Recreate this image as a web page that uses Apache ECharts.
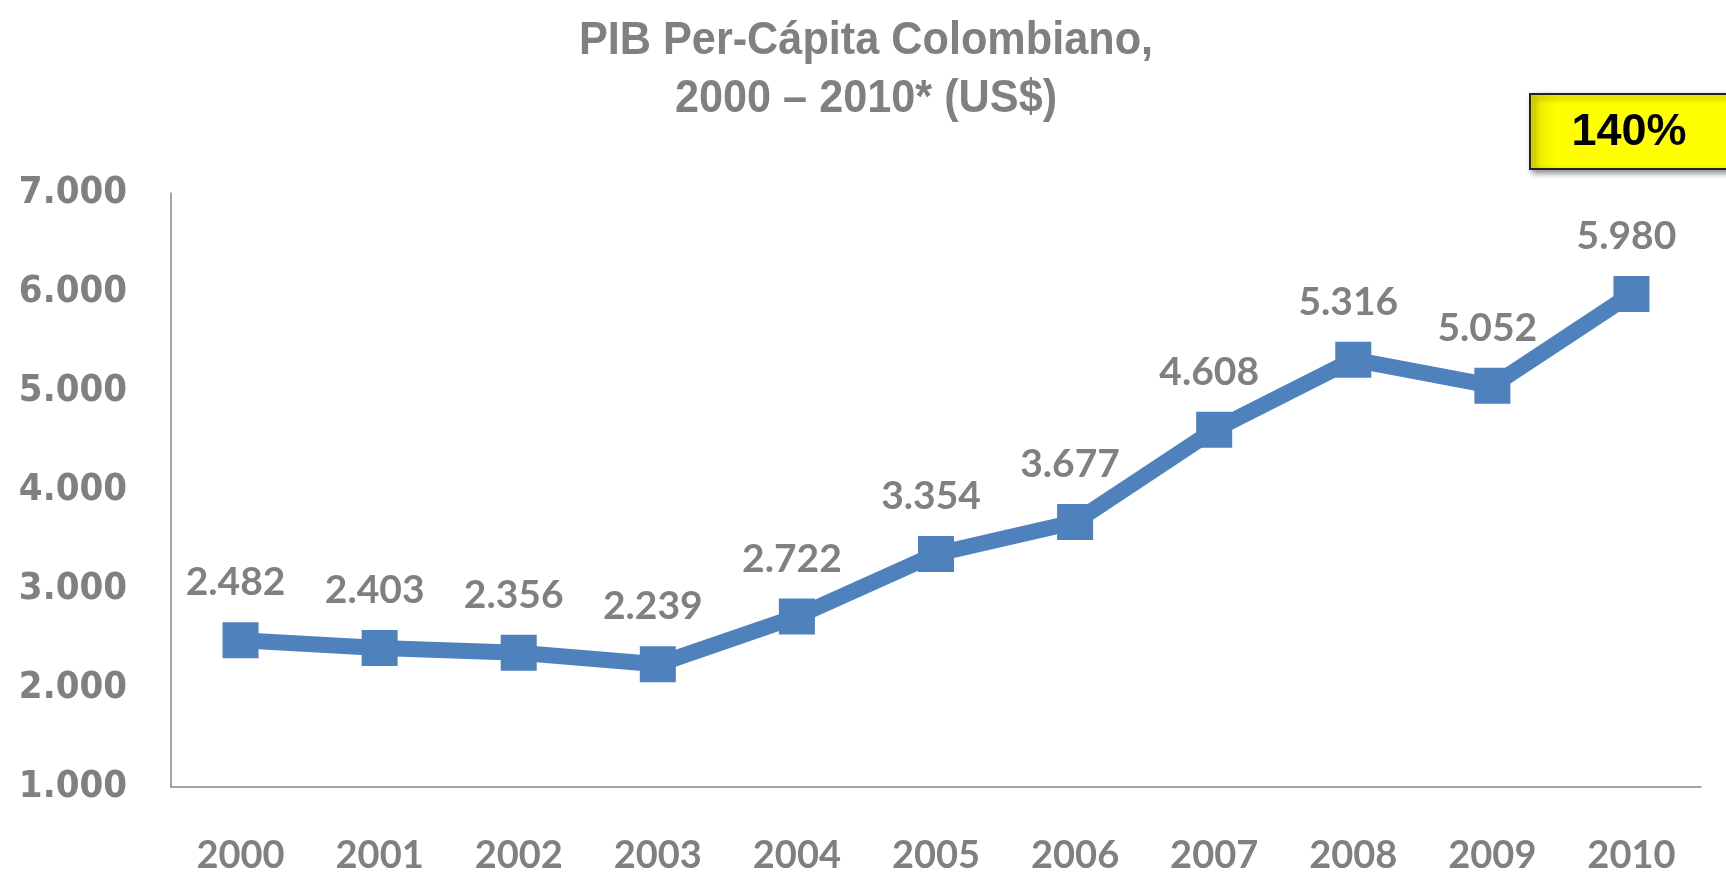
<!DOCTYPE html>
<html>
<head>
<meta charset="utf-8">
<script src="https://cdn.jsdelivr.net/npm/echarts@6/dist/echarts.min.js"></script>
<style>
html,body{margin:0;padding:0;background:#fff;}
#chart{width:1726px;height:877px;}
</style>
</head>
<body>
<div id="chart"></div>
<script>
const categories = ['2000','2001','2002','2003','2004','2005','2006','2007','2008','2009','2010'];
const pibValues = [2482, 2403, 2356, 2239, 2722, 3354, 3677, 4608, 5316, 5052, 5980];
const titleLines = ['PIB Per-Cápita Colombiano,', '2000 – 2010* (US$)'];
const badgeText = '140%';

function fmt(v){ return String(v).replace(/\B(?=(\d{3})+(?!\d))/g, '.'); }

const chart = echarts.init(document.getElementById('chart'));
chart.setOption({
  animation: false,
  backgroundColor: '#ffffff',
  grid: { left: 171, right: 25, top: 193, bottom: 90, containLabel: false },
  xAxis: {
    type: 'category',
    data: categories,
    boundaryGap: true,
    axisLine: { lineStyle: { color: '#868686', width: 1.5 } },
    axisTick: { show: false },
    axisLabel: {
      margin: 50,
      fontFamily: 'Lato, "Open Sans", sans-serif',
      fontWeight: 'bold',
      fontSize: 38,
      color: '#808080'
    }
  },
  yAxis: {
    type: 'value',
    min: 1000, max: 7000, interval: 1000,
    splitLine: { show: false },
    axisLine: { show: true, lineStyle: { color: '#868686', width: 1.5 } },
    axisTick: { show: false },
    axisLabel: {
      margin: 44,
      fontFamily: '"DejaVu Sans Condensed", "DejaVu Sans", sans-serif',
      fontWeight: 'bold',
      fontSize: 38,
      color: '#808080',
      formatter: v => fmt(v)
    }
  },
  series: [{
    type: 'line',
    data: pibValues,
    symbol: 'rect',
    symbolSize: 36,
    lineStyle: { color: '#4f81bd', width: 16 },
    itemStyle: { color: '#4f81bd' },
    label: {
      show: true,
      position: 'top',
      distance: 20,
      offset: [-5, 0],
      fontFamily: 'Lato, "Open Sans", sans-serif',
      fontWeight: 'bold',
      fontSize: 39,
      color: '#808080',
      formatter: p => fmt(p.value)
    }
  }],
  graphic: [
    {
      type: 'text',
      x: 866, y: 12,
      scaleX: 0.92,
      style: {
        text: titleLines.join('\n'),
        x: 0, y: 0,
        align: 'center',
        verticalAlign: 'top',
        fontFamily: '"Liberation Sans", Arial, sans-serif',
        fontWeight: 'bold',
        fontSize: 47,
        lineHeight: 58,
        fill: '#808080'
      }
    },
    {
      type: 'rect',
      shape: { x: 1530, y: 94, width: 220, height: 75 },
      style: {
        fill: new echarts.graphic.LinearGradient(0, 0, 1, 0, [
          { offset: 0, color: '#e2e200' },
          { offset: 0.12, color: '#ffff00' },
          { offset: 1, color: '#ffff00' }
        ]),
        stroke: '#222222',
        lineWidth: 2,
        shadowBlur: 6,
        shadowOffsetX: 3,
        shadowOffsetY: 3,
        shadowColor: 'rgba(0,0,0,0.45)'
      },
      z: 10
    },
    {
      type: 'text',
      style: {
        text: badgeText,
        x: 1629, y: 133,
        align: 'center',
        verticalAlign: 'middle',
        fontFamily: '"Liberation Sans", Arial, sans-serif',
        fontWeight: 'bold',
        fontSize: 45,
        fill: '#000000'
      },
      z: 11
    }
  ]
});
</script>
</body>
</html>
